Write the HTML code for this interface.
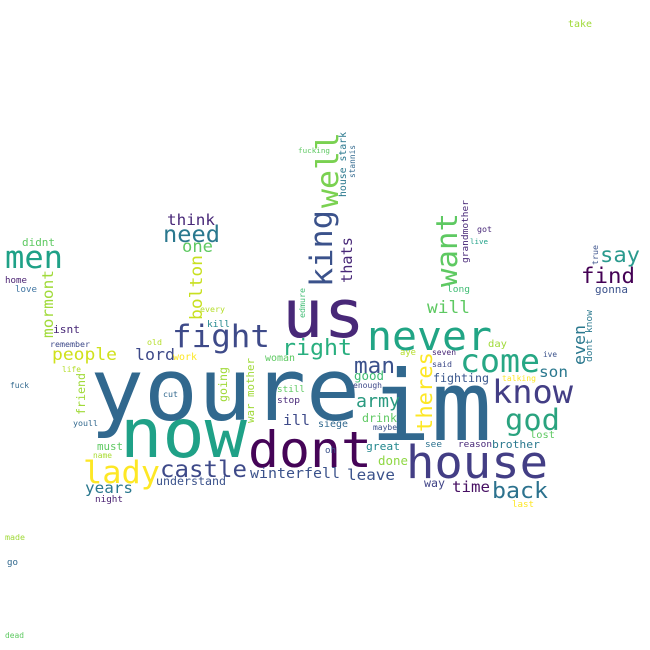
<!DOCTYPE html>
<html><head><meta charset="utf-8"><style>
html,body{margin:0;padding:0;background:#fff;}
svg{display:block;}
text{font-family:"DejaVu Sans Mono","Liberation Mono",monospace;}
</style></head>
<body>
<svg id="cloud" width="650" height="650" viewBox="0 0 650 650" xmlns="http://www.w3.org/2000/svg">
<rect width="650" height="650" fill="#ffffff"/>
</svg>
<script>
// word data: text, x, baseline y, length, orientation (0=horizontal,1=vertical), color
const words = ["youre","im","now","dont","us","never","fight","right","come","know","god","house","back","time","man","army","good","fighting","son","seven","said","aye","day","ive","talking","enough","drink","maybe","great","done","leave","ill","siege","oh","see","reason","brother","lost","way","last","winterfell","castle","understand","lady","years","night","must","name","youll","fuck","remember","old","people","lord","work","woman","life","cut","still","stop","isnt","kill","every","home","love","didnt","men","think","need","one","fucking","got","live","say","find","gonna","long","will","take","made","go","dead",
"king","well","thats","house stark","stannis","want","grandmother","edmure","bolton","mormont","friend","going","war mother","theres","even","dont know","true"];
const xs = [90,370,120,248,282,367,172,282,460,492,505,406,492,452,354,356,354,433,539,432,432,400,488,543,502,353,362,373,366,378,347,283,318,325,425,458,492,530,424,512,250,160,156,83,85,95,97,93,73,10,50,147,52,135,173,265,62,163,277,277,53,207,200,5,15,22,5,167,163,182,298,477,470,600,581,595,447,427,568,5,7,5,
332,338,352,346,355,457,468,305,202,53,85,227,254,432,585,592,598];
const ys = [420,440,457,467,337,350,347,355,372,403,430,478,498,492,373,407,380,382,377,355,367,355,347,357,381,388,422,430,450,465,480,425,427,453,447,447,448,438,487,507,478,477,485,483,493,502,450,458,426,388,347,345,360,360,360,361,372,397,392,403,333,327,312,283,292,246,268,225,242,252,153,232,244,262,283,293,292,313,27,540,565,638,
287,208,283,197,178,287,263,318,320,338,415,402,423,432,365,362,265];
const lens = [270,122,127,124,83,125,98,70,80,81,55,142,56,38,41,44,30,56,29,24,20,16,19,14,34,29,35,24,34,30,48,27,30,11,17,34,48,25,21,22,90,87,70,77,48,28,26,19,25,19,40,15,65,40,24,30,19,15,28,23,27,23,25,22,22,33,58,48,57,31,32,15,18,40,54,33,23,43,24,20,11,19,
77,76,46,65,33,74,63,30,65,68,42,35,65,80,40,52,20];
const orient = [0,0,0,0,0,0,0,0,0,0,0,0,0,0,0,0,0,0,0,0,0,0,0,0,0,0,0,0,0,0,0,0,0,0,0,0,0,0,0,0,0,0,0,0,0,0,0,0,0,0,0,0,0,0,0,0,0,0,0,0,0,0,0,0,0,0,0,0,0,0,0,0,0,0,0,0,0,0,0,0,0,0,
1,1,1,1,1,1,1,1,1,1,1,1,1,1,1,1,1];
const colors = ["#31688e","#31688e","#1fa187","#450457","#482878","#21a585","#3e4a89","#29af7f","#26a784","#433e85","#2aa37f","#433e85","#2c728e","#471063","#3b518b","#2a9a80","#3fbc73","#39568c","#2a788e","#482677","#3e4a89","#b5de2b","#a0da39","#3b528b","#fde725","#3e4989","#5ec962","#3b528b","#23888e","#8fd744","#3b528b","#3e4a89","#31688e","#3b528b","#2c718e","#482878","#2a788e","#5ec962","#414487","#fde725","#3b528b","#3e4a89","#3b528b","#fde725","#2a788e","#481f70","#5ec962","#aadc32","#31688e","#31688e","#3e4a89","#b5de2b","#d0e11c","#3e4a89","#fde725","#5ec962","#b5de2b","#31688e","#5ec962","#482878","#482878","#23888e","#b5de2b","#481f70","#3e74a1","#5ec962","#1fa187","#482878","#2a788e","#5ec962","#5ec962","#482878","#1fa187","#2a9a8e","#440154","#3b528b","#3fbc73","#5ec962","#a0da39","#a0da39","#31688e","#5ec962",
"#3b528b","#7ad151","#482878","#2a788e","#31688e","#5ec962","#482878","#3fbc73","#c8e020","#a0da39","#a0da39","#a0da39","#a0da39","#fde725","#2a788e","#2a788e","#3b528b"];

const svg = document.getElementById('cloud');
const NS = 'http://www.w3.org/2000/svg';
for (let i = 0; i < words.length; i++) {
  const t = document.createElementNS(NS, 'text');
  const n = words[i].length;
  const fs = orient[i] ? 1.6 * lens[i] / n : 1.6 * lens[i] / n;
  t.setAttribute('x', 0);
  t.setAttribute('y', 0);
  t.setAttribute('font-size', fs.toFixed(1));
  t.setAttribute('fill', colors[i]);
  t.setAttribute('textLength', lens[i]);
  t.setAttribute('lengthAdjust', 'spacingAndGlyphs');
  t.setAttribute('transform', 'translate(' + xs[i] + ',' + ys[i] + ')' + (orient[i] ? ' rotate(-90)' : ''));
  
  
  t.textContent = words[i];
  svg.appendChild(t);
}
</script>
</body></html>
